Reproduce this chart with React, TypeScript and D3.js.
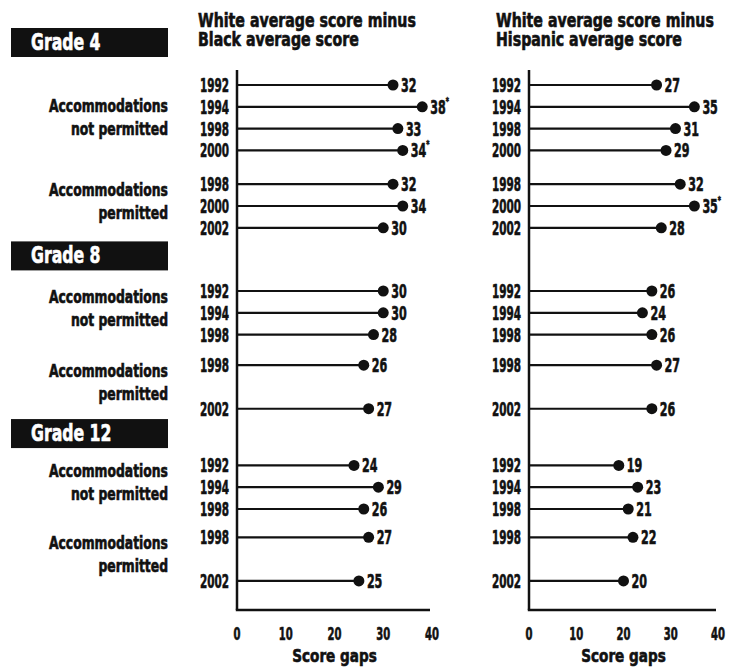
import React, { useEffect, useRef } from 'react';
import * as d3 from 'd3';

// Year slots per subgroup (a missing year keeps its slot)
const notPermittedYears = ['1992', '1994', '1998', '2000'];
const permittedYears = ['1998', '2000', '2002'];

const gradeLabels = ['Grade 4', 'Grade 8', 'Grade 12'];
const subgroupLabels = [['Accommodations', 'not permitted'], ['Accommodations', 'permitted']];

// years reported, per grade: [not permitted, permitted]
const g4Years = [['1992', '1994', '1998', '2000'], ['1998', '2000', '2002']];
const g8Years = [['1992', '1994', '1998'], ['1998', '2002']];
const g12Years = [['1992', '1994', '1998'], ['1998', '2002']];

// White minus Black
const g4Black = [[32, 38, 33, 34], [32, 34, 30]];
const g8Black = [[30, 30, 28], [26, 27]];
const g12Black = [[24, 29, 26], [27, 25]];
const g4BlackFlag = [[false, true, false, true], [false, false, false]];

// White minus Hispanic
const g4Hispanic = [[27, 35, 31, 29], [32, 35, 28]];
const g8Hispanic = [[26, 24, 26], [27, 26]];
const g12Hispanic = [[19, 23, 21], [22, 20]];
const g4HispanicFlag = [[false, false, false, false], [false, true, false]];

const xTicks = [0, 10, 20, 30, 40];
const FONT = "'Liberation Sans Narrow', 'DejaVu Sans Condensed', 'Arial Narrow', sans-serif";

// spacing between groups, in row steps
const subGap = [1.55, 1.4, 1.3];
const gradeGap = [0, 2.9, 2.6];

const App: React.FC = () => {
  const svgRef = useRef<SVGSVGElement>(null);

  useEffect(() => {
    if (!svgRef.current) return;
    const svg = d3.select(svgRef.current);
    svg.selectAll('*').remove();

    const yearsByGrade = [g4Years, g8Years, g12Years];
    const blackByGrade = [g4Black, g8Black, g12Black];
    const hispByGrade = [g4Hispanic, g8Hispanic, g12Hispanic];

    type Row = { grade: number; sub: number; year: string; slot: number; black: number; hisp: number; bFlag: boolean; hFlag: boolean };
    const rows: Row[] = [];
    const subStart: { grade: number; sub: number; slot: number }[] = [];
    const gradeStart: number[] = [];
    const gradeEnd: number[] = [];
    let slot = 0;
    yearsByGrade.forEach((subs, g) => {
      slot += gradeGap[g];
      gradeStart.push(slot);
      subs.forEach((yrs, s) => {
        if (s > 0) slot += subGap[g];
        const full = s === 0 ? notPermittedYears : permittedYears;
        const base = slot;
        subStart.push({ grade: g, sub: s, slot: base });
        let last = base;
        yrs.forEach((yr, i) => {
          last = base + full.indexOf(yr) - full.indexOf(yrs[0]);
          rows.push({
            grade: g, sub: s, year: yr, slot: last,
            black: blackByGrade[g][s][i], hisp: hispByGrade[g][s][i],
            bFlag: g === 0 ? g4BlackFlag[s][i] : false,
            hFlag: g === 0 ? g4HispanicFlag[s][i] : false,
          });
        });
        slot = last;
      });
      gradeEnd.push(slot);
    });

    const y = d3.scaleLinear().domain([0, 1]).range([85, 106.8]);
    const axisBottom = 610;

    const g = svg.append('g').attr('font-family', FONT).attr('font-weight', 'bold').attr('fill', '#111');

    // text squeezed horizontally to mimic the heavy condensed face
    const txt = (x: number, yy: number, s: string, size: number, sx: number, anchor = 'start', fill = '#111') =>
      g.append('text').attr('transform', `translate(${x},${yy}) scale(${sx},1)`)
        .attr('font-size', size).attr('text-anchor', anchor).attr('fill', fill)
        .attr('stroke', fill).attr('stroke-width', 0.6).text(s);

    // grade boxes
    gradeLabels.forEach((lab, i) => {
      const first = y(gradeStart[i]);
      const cy = i === 0 ? first - 43 : (y(gradeEnd[i - 1]) + first) / 2 - 4;
      g.append('rect').attr('x', 11).attr('y', cy - 14).attr('width', 157).attr('height', 29).attr('fill', '#111');
      txt(31, cy + 8, lab, 23, 0.76, 'start', '#fff');
    });

    // subgroup labels
    subStart.forEach((s) => {
      const y0 = y(s.slot) + 12 + (s.grade === 0 && s.sub === 0 ? 15 : 0);
      subgroupLabels[s.sub].forEach((ln, k) => txt(168, y0 + k * 23, ln, 17, 0.81, 'end'));
    });

    const panels = [
      { x0: 237, x1: 432, title: ['White average score minus', 'Black average score'], tx: 198, key: 'black' as const },
      { x0: 529, x1: 718, title: ['White average score minus', 'Hispanic average score'], tx: 496, key: 'hisp' as const },
    ];

    panels.forEach((p) => {
      const x = d3.scaleLinear().domain([0, 40]).range([p.x0, p.x1]);

      p.title.forEach((t, k) => txt(p.tx, 27 + k * 19, t, 19, 0.83));

      // axes
      g.append('line').attr('x1', x(0)).attr('x2', x(0)).attr('y1', 70).attr('y2', axisBottom)
        .attr('stroke', '#111').attr('stroke-width', 2.5);
      g.append('line').attr('x1', x(0) - 1.2).attr('x2', x(40) - 2).attr('y1', axisBottom).attr('y2', axisBottom)
        .attr('stroke', '#111').attr('stroke-width', 2.5);

      xTicks.forEach((t) => txt(x(t), 640, String(t), 18, 0.62, 'middle'));
      txt(x(20), 662, 'Score gaps', 18, 0.84, 'middle');

      rows.forEach((r) => {
        const v = r[p.key];
        const flag = p.key === 'black' ? r.bFlag : r.hFlag;
        const yy = y(r.slot);
        txt(x(0) - 8, yy + 7, r.year, 20, 0.58, 'end');
        g.append('line').attr('x1', x(0)).attr('x2', x(v)).attr('y1', yy).attr('y2', yy)
          .attr('stroke', '#111').attr('stroke-width', 2.2);
        g.append('circle').attr('cx', x(v)).attr('cy', yy).attr('r', 5.5).attr('fill', '#111');
        const lab = txt(x(v) + 8, yy + 7, String(v), 20, 0.62);
        if (flag) lab.append('tspan').attr('font-size', 11).attr('dy', -9).text('*');
      });
    });
  }, []);

  return (
    <svg ref={svgRef} width={736} height={670}
      style={{ position: 'absolute', left: 0, top: 0, background: '#fff' }} />
  );
};

export default App;
